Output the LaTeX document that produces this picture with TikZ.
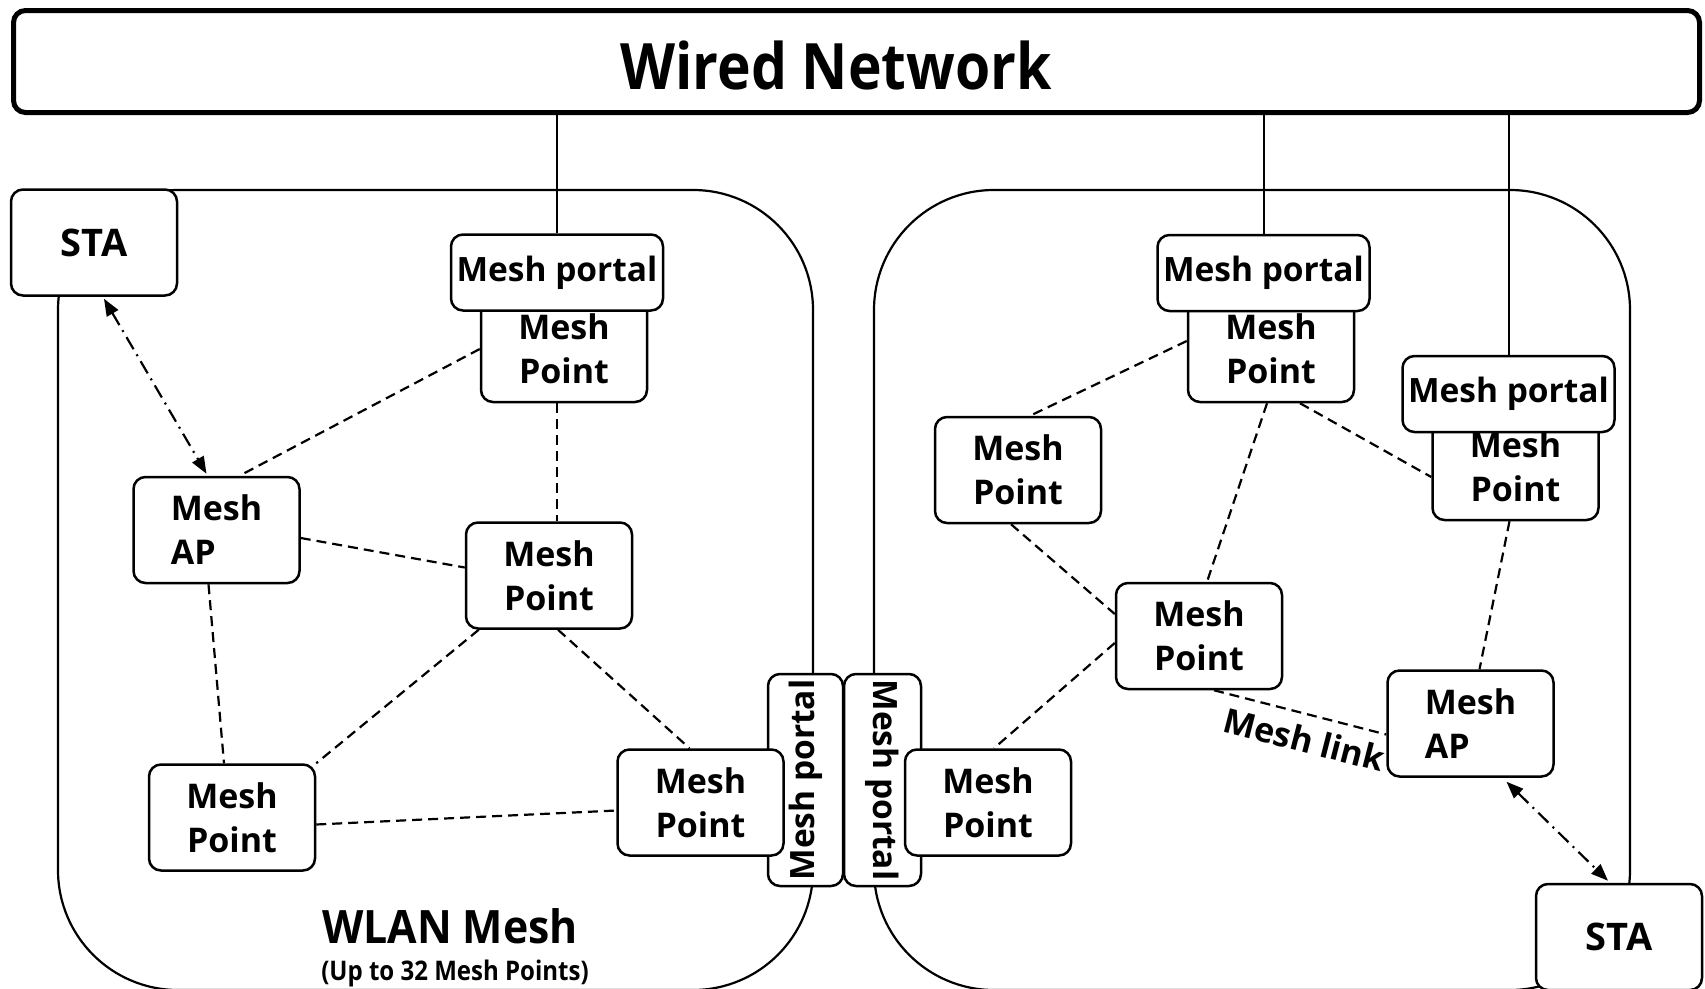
\documentclass[tikz,border=0pt]{standalone}
\usepackage{fontspec}
\usepackage{graphicx}
\setmainfont{Open Sans}
\usetikzlibrary{arrows.meta,calc}
\begin{document}
\begin{tikzpicture}[x=1pt,y=-1pt,
  box/.style={draw, line width=2.5pt, rounded corners=12pt, fill=white,
    minimum width=166pt, minimum height=106pt, inner sep=0pt, align=center,
    font=\bfseries\fontsize{34}{44}\selectfont},
  lbox/.style={box, align=left},
  stabox/.style={box, font=\bfseries\fontsize{38}{44}\selectfont},
  portal/.style={draw, line width=2.5pt, rounded corners=12pt, fill=white,
    minimum width=212pt, minimum height=76pt, inner sep=0pt,
    font=\bfseries\fontsize{33.5}{40}\selectfont},
  region/.style={draw, line width=2.2pt, rounded corners=120pt},
  wire/.style={line width=2pt},
  link/.style={line width=2.2pt, dash pattern=on 10pt off 6pt},
  assoc/.style={line width=2.2pt, dash pattern=on 14pt off 6pt on 2pt off 6pt,
    {Triangle[length=17pt,width=13pt]}-{Triangle[length=17pt,width=13pt]}},
]
\useasboundingbox (0,0) rectangle (1705,988);
\clip (0,0) rectangle (1705,988);

% regions
\draw[region] (58,190) rectangle (813,990);
\draw[region] (874,190) rectangle (1630,990);

% wired network
\node[draw, line width=5pt, rounded corners=12pt, minimum width=1686pt,
  minimum height=102pt, inner sep=0pt] (wired) at (856.5,61.5) {};
\node[font=\bfseries\fontsize{64}{70}\selectfont, anchor=base, inner sep=0pt]
  (wiredtxt) at (836,89) {\scalebox{0.89}[1]{Wired Network}};

% left mesh
\node[stabox] (staL) at (94,242.5) {STA};
\node[box] (mpTL) at (564,349) {Mesh\\Point};
\node[portal] (portalTL) at (557,272.5) {Mesh portal};
\node[lbox] (apL) at (216.5,530) {Mesh\\AP};
\node[box] (mpC) at (549,575.5) {Mesh\\Point};
\node[box] (mpBL) at (232,817.5) {Mesh\\Point};
\node[portal, minimum height=75pt, rotate=90] (portalL) at (805.5,780) {Mesh portal};
\node[portal, minimum height=77pt, rotate=-90] (portalR) at (882.5,780) {Mesh portal};
\node[box] (mpBR) at (700.5,802.5) {Mesh\\Point};

% right mesh
\node[box] (mpBRR) at (988,802.5) {Mesh\\Point};
\node[box] (mpTR1) at (1271,349) {Mesh\\Point};
\node[portal] (portalTR1) at (1263.5,273) {Mesh portal};
\node[box] (mpTR2) at (1515.5,467) {Mesh\\Point};
\node[portal] (portalTR2) at (1508.5,394) {Mesh portal};
\node[box] (mpUL) at (1018,470) {Mesh\\Point};
\node[box] (mpM) at (1199,636) {Mesh\\Point};
\node[lbox] (apR) at (1470.5,723.5) {Mesh\\AP};
\node[stabox] (staR) at (1619,937) {STA};

% labels
\node[font=\bfseries\fontsize{46}{50}\selectfont, anchor=base, inner sep=0pt] (wlan) at (450,943)
  {\scalebox{0.93}[1]{WLAN Mesh}};
\node[font=\bfseries\fontsize{27}{30}\selectfont, anchor=base, inner sep=0pt] (upto) at (455,980)
  {\scalebox{0.89}[1]{(Up to 32 Mesh Points)}};

% wires
\draw[wire] (portalTL.north) -- (portalTL.north |- wired.south);
\draw[wire] (portalTR1.north) -- (portalTR1.north |- wired.south);
\draw[wire] (portalTR2.north) -- (portalTR2.north |- wired.south);

% left links
\draw[assoc] ($(staL.south)+(10,2)$) -- ($(apL.north)+(-10,-2)$);
\draw[link] (mpTL.west) -- ($(apL.north)+(23,0)$);
\draw[link] (mpTL.south -| portalTL.south) -- (mpC.north -| portalTL.south);
\draw[link] ($(apL.east)+(0,8)$) -- ($(mpC.west)+(0,-8)$);
\draw[link] ($(apL.south)+(-8,0)$) -- ($(mpBL.north)+(-8,0)$);
\draw[link] ($(mpC.south west)+(14,0)$) -- (mpBL.north east);
\draw[link] ($(mpC.south)+(9,0)$) -- ($(mpBR.north)+(-11,0)$);
\draw[link] ($(mpBL.east)+(0,7)$) -- ($(mpBR.west)+(0,8)$);

% right links
\draw[link] ($(mpTR1.west)+(0,-8)$) -- ($(mpUL.north)+(12,0)$);
\draw[link] ($(mpTR1.south)+(-4,0)$) -- ($(mpM.north)+(8,0)$);
\draw[link] ($(mpTR1.south)+(29,0)$) -- ($(mpTR2.west)+(0,10)$);
\draw[link] ($(mpUL.south)+(-7,0)$) -- ($(mpM.west)+(0,-22)$);
\draw[link] ($(mpTR2.south)+(-6,0)$) -- ($(apR.north)+(9,0)$);
\draw[link] ($(mpM.west)+(0,7)$) -- ($(mpBRR.north)+(6,0)$);
\draw[link] ($(mpM.south)+(15,0)$) -- node[sloped, below=11pt, pos=0.56, inner sep=0pt,
  font=\bfseries\fontsize{34}{36}\selectfont] (lbl) {Mesh link} ($(apR.west)+(0,11)$);
\draw[assoc] ($(apR.south)+(36,4)$) -- ($(staR.north)+(-11,-2)$);
\end{tikzpicture}
\end{document}
